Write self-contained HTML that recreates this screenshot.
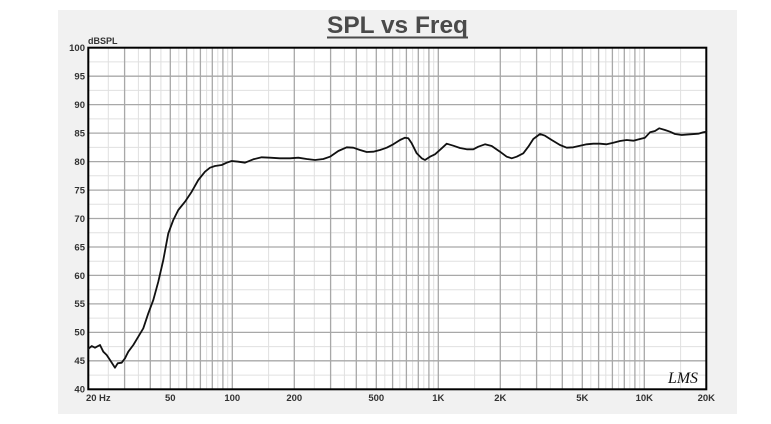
<!DOCTYPE html>
<html><head><meta charset="utf-8"><style>
html,body{margin:0;padding:0;background:#fff;}
svg{display:block;}
text{font-family:"Liberation Sans",Arial,sans-serif;}
</style></head><body>
<svg width="771" height="424" viewBox="0 0 771 424" xmlns="http://www.w3.org/2000/svg">
<rect x="0" y="0" width="771" height="424" fill="#ffffff"/>
<rect x="58" y="10" width="679" height="404" fill="#f1f1f1"/>
<text x="327" y="33" font-size="24" font-weight="bold" fill="#4a4a4a" textLength="141" lengthAdjust="spacingAndGlyphs">SPL vs Freq</text>
<rect x="327" y="36.5" width="141" height="2" fill="#4a4a4a"/>
<rect x="88.3" y="47.7" width="618" height="341.6" fill="#ffffff"/>
<g stroke="#e0e0e0" stroke-width="1">
<line x1="88.3" x2="706.3" y1="375.1" y2="375.1"/><line x1="88.3" x2="706.3" y1="346.6" y2="346.6"/><line x1="88.3" x2="706.3" y1="318.1" y2="318.1"/><line x1="88.3" x2="706.3" y1="289.7" y2="289.7"/><line x1="88.3" x2="706.3" y1="261.2" y2="261.2"/><line x1="88.3" x2="706.3" y1="232.8" y2="232.8"/><line x1="88.3" x2="706.3" y1="204.3" y2="204.3"/><line x1="88.3" x2="706.3" y1="175.8" y2="175.8"/><line x1="88.3" x2="706.3" y1="147.4" y2="147.4"/><line x1="88.3" x2="706.3" y1="118.9" y2="118.9"/><line x1="88.3" x2="706.3" y1="90.4" y2="90.4"/><line x1="88.3" x2="706.3" y1="61.9" y2="61.9"/>
<line y1="47.7" y2="389.3" x1="108.3" x2="108.3"/><line y1="47.7" y2="389.3" x1="138.4" x2="138.4"/><line y1="47.7" y2="389.3" x1="160.9" x2="160.9"/><line y1="47.7" y2="389.3" x1="178.8" x2="178.8"/><line y1="47.7" y2="389.3" x1="193.8" x2="193.8"/><line y1="47.7" y2="389.3" x1="206.6" x2="206.6"/><line y1="47.7" y2="389.3" x1="217.8" x2="217.8"/><line y1="47.7" y2="389.3" x1="227.7" x2="227.7"/>
<line y1="47.7" y2="389.3" x1="268.6" x2="268.6"/><line y1="47.7" y2="389.3" x1="314.3" x2="314.3"/><line y1="47.7" y2="389.3" x1="344.4" x2="344.4"/><line y1="47.7" y2="389.3" x1="366.9" x2="366.9"/><line y1="47.7" y2="389.3" x1="384.8" x2="384.8"/><line y1="47.7" y2="389.3" x1="399.8" x2="399.8"/><line y1="47.7" y2="389.3" x1="412.6" x2="412.6"/><line y1="47.7" y2="389.3" x1="423.8" x2="423.8"/><line y1="47.7" y2="389.3" x1="433.7" x2="433.7"/>
<line y1="47.7" y2="389.3" x1="474.6" x2="474.6"/><line y1="47.7" y2="389.3" x1="520.3" x2="520.3"/><line y1="47.7" y2="389.3" x1="550.4" x2="550.4"/><line y1="47.7" y2="389.3" x1="572.9" x2="572.9"/><line y1="47.7" y2="389.3" x1="590.8" x2="590.8"/><line y1="47.7" y2="389.3" x1="605.8" x2="605.8"/><line y1="47.7" y2="389.3" x1="618.6" x2="618.6"/><line y1="47.7" y2="389.3" x1="629.8" x2="629.8"/><line y1="47.7" y2="389.3" x1="639.7" x2="639.7"/>
<line y1="47.7" y2="389.3" x1="680.6" x2="680.6"/>
</g>
<g stroke="#a8a8a8" stroke-width="1.3">
<line x1="88.3" x2="706.3" y1="360.8" y2="360.8"/><line x1="88.3" x2="706.3" y1="332.4" y2="332.4"/><line x1="88.3" x2="706.3" y1="303.9" y2="303.9"/><line x1="88.3" x2="706.3" y1="275.4" y2="275.4"/><line x1="88.3" x2="706.3" y1="247.0" y2="247.0"/><line x1="88.3" x2="706.3" y1="218.5" y2="218.5"/><line x1="88.3" x2="706.3" y1="190.1" y2="190.1"/><line x1="88.3" x2="706.3" y1="161.6" y2="161.6"/><line x1="88.3" x2="706.3" y1="133.1" y2="133.1"/><line x1="88.3" x2="706.3" y1="104.6" y2="104.6"/><line x1="88.3" x2="706.3" y1="76.2" y2="76.2"/>
<line y1="47.7" y2="389.3" x1="124.6" x2="124.6"/><line y1="47.7" y2="389.3" x1="150.3" x2="150.3"/><line y1="47.7" y2="389.3" x1="170.3" x2="170.3"/><line y1="47.7" y2="389.3" x1="186.6" x2="186.6"/><line y1="47.7" y2="389.3" x1="200.4" x2="200.4"/><line y1="47.7" y2="389.3" x1="212.3" x2="212.3"/><line y1="47.7" y2="389.3" x1="222.9" x2="222.9"/>
<line y1="47.7" y2="389.3" x1="232.3" x2="232.3"/><line y1="47.7" y2="389.3" x1="294.3" x2="294.3"/><line y1="47.7" y2="389.3" x1="330.6" x2="330.6"/><line y1="47.7" y2="389.3" x1="356.3" x2="356.3"/><line y1="47.7" y2="389.3" x1="376.3" x2="376.3"/><line y1="47.7" y2="389.3" x1="392.6" x2="392.6"/><line y1="47.7" y2="389.3" x1="406.4" x2="406.4"/><line y1="47.7" y2="389.3" x1="418.3" x2="418.3"/><line y1="47.7" y2="389.3" x1="428.9" x2="428.9"/>
<line y1="47.7" y2="389.3" x1="438.3" x2="438.3"/><line y1="47.7" y2="389.3" x1="500.3" x2="500.3"/><line y1="47.7" y2="389.3" x1="536.6" x2="536.6"/><line y1="47.7" y2="389.3" x1="562.3" x2="562.3"/><line y1="47.7" y2="389.3" x1="582.3" x2="582.3"/><line y1="47.7" y2="389.3" x1="598.6" x2="598.6"/><line y1="47.7" y2="389.3" x1="612.4" x2="612.4"/><line y1="47.7" y2="389.3" x1="624.3" x2="624.3"/><line y1="47.7" y2="389.3" x1="634.9" x2="634.9"/>
<line y1="47.7" y2="389.3" x1="644.3" x2="644.3"/>
</g>
<rect x="88.3" y="47.7" width="618" height="341.6" fill="none" stroke="#000" stroke-width="2"/>
<polyline fill="none" stroke="#111" stroke-width="1.8" stroke-linejoin="round" stroke-linecap="round" points="88.3,349 91.7,346 95,347.7 100,345 103.3,351.7 106.7,355 110,360 115,367.7 117.7,363.3 121.7,362.7 125,358.3 128.3,351.7 133.3,345 138.3,336.7 143.3,328.3 148.3,313.3 153.3,300 158.3,281.7 163.3,260 168.3,233.3 173.3,220 178.3,210 185,201.7 191.7,191.7 198.3,180 205,171.7 210,167.7 215,166 221.7,165 226.7,162.7 231.7,161 238.3,161.7 245,162.7 253.3,159.3 261.7,157.3 270,157.7 280,158.3 290,158.3 298.3,157.7 306.7,159 315,160 323.3,159 330,156.7 338.3,151 346.7,147.3 353.3,147.7 360,150 366.7,152 373.3,151.7 380,150 386.7,147.7 393.3,144.3 400,140 405,137.7 408.3,138.3 411.7,143.3 416.7,153.3 421.7,158.3 425,160 430,156.7 435,154.3 441.7,148.3 446.7,143.7 453.3,145.7 460,148 466.7,149.3 473.3,149.3 478.3,146.7 485,144.3 491.7,146 500,151.7 506.7,156.7 511.7,158.3 516.7,156.7 523.3,153.3 528.3,146.7 533.3,139 540,134 545,135.7 551.7,140 560,145 566.7,147.7 573.3,147.3 580,145.7 586.7,144.3 593.3,143.7 600,143.7 606.7,144.3 613.3,142.7 620,141 626.7,140 633.3,140.7 640,139 645,137.7 650,132.3 655,131 659.3,128.3 665,130 670,131.7 675,134 681.7,135 690,134.3 698.3,133.7 703.3,132.3 706.3,131.7"/>
<g font-size="9.5" font-weight="bold" fill="#333" text-anchor="end">
<text x="85" y="51">100</text><text x="85" y="79.5">95</text><text x="85" y="108">90</text><text x="85" y="136.5">85</text><text x="85" y="165">80</text><text x="85" y="193.5">75</text><text x="85" y="222">70</text><text x="85" y="250.5">65</text><text x="85" y="279">60</text><text x="85" y="307">55</text><text x="85" y="335.5">50</text><text x="85" y="364">45</text><text x="85" y="392.5">40</text>
</g>
<text x="88" y="44" font-size="9" font-weight="bold" fill="#333">dBSPL</text>
<g font-size="9.5" font-weight="bold" fill="#333" text-anchor="middle">
<text x="170.3" y="401">50</text><text x="232.3" y="401">100</text><text x="294.3" y="401">200</text><text x="376.3" y="401">500</text><text x="438.3" y="401">1K</text><text x="500.3" y="401">2K</text><text x="582.3" y="401">5K</text><text x="644.3" y="401">10K</text><text x="706.3" y="401">20K</text>
</g>
<text x="86" y="401" font-size="9.5" font-weight="bold" fill="#333">20</text>
<text x="99" y="401" font-size="9.5" font-weight="bold" fill="#333">Hz</text>
<text x="668" y="383" font-size="16" font-style="italic" fill="#111" style="font-family:'Liberation Serif',serif" textLength="30" lengthAdjust="spacingAndGlyphs">LMS</text>
</svg>
</body></html>
